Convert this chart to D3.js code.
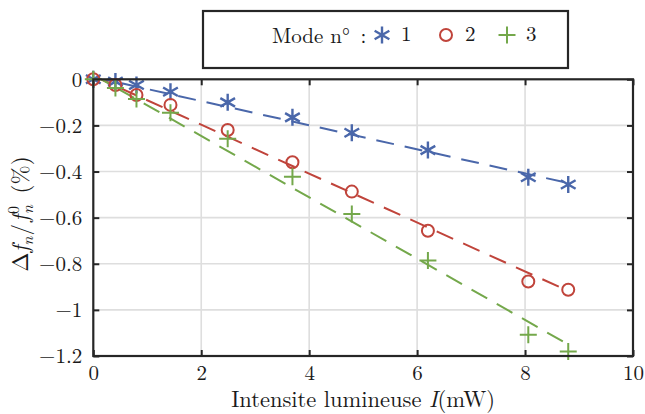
<!DOCTYPE html>
<html>
<head>
<meta charset="utf-8">
<script src="https://cdn.jsdelivr.net/npm/d3@7"></script>
<style>
  html, body { margin: 0; padding: 0; background: #fff; }
  svg { display: block; }
</style>
</head>
<body>
<svg id="chart" width="645" height="414"></svg>
<script>
// ---- data ----
const intensity = [0, 0.41, 0.8, 1.43, 2.49, 3.69, 4.79, 6.2, 8.06, 8.8];
const mode1 = [0, -0.01, -0.025, -0.054, -0.1, -0.165, -0.232, -0.307, -0.425, -0.456];
const mode2 = [0, -0.025, -0.068, -0.111, -0.22, -0.36, -0.487, -0.657, -0.877, -0.913];
const mode3 = [0, -0.038, -0.085, -0.145, -0.258, -0.423, -0.584, -0.786, -1.108, -1.18];
const fitX = [0, 8.8];
const fit1 = [0.01, -0.45];
const fit2 = [0.015, -0.918];
const fit3 = [0.02, -1.15];
const modeNames = ["1", "2", "3"];
const xTicks = [0, 2, 4, 6, 8, 10];
const xTickLabels = ["0", "2", "4", "6", "8", "10"];
const yTicks = [0, -0.2, -0.4, -0.6, -0.8, -1, -1.2];
const yTickLabels = ["0", "\u22120.2", "\u22120.4", "\u22120.6", "\u22120.8", "\u22121", "\u22121.2"];

// ---- layout ----
const FONT = '"Latin Modern Roman", "CMU Serif", "Liberation Serif", serif';
const L = 93.3, R = 633, T = 79.3, B = 356;
const svg = d3.select("#chart");
const x = d3.scaleLinear().domain([0, 10]).range([L, R]);
const y = d3.scaleLinear().domain([-1.2, 0]).range([B, T]);
const colors = ["#4a67aa", "#c0443b", "#74a84b"];
const frameColor = "#262626";
const textColor = "#1a1a1a";
const fs = 21;

// grid
const grid = svg.append("g");
grid.selectAll("line.gx").data(xTicks.slice(1, -1)).join("line")
  .attr("x1", d => x(d)).attr("x2", d => x(d)).attr("y1", T).attr("y2", B)
  .attr("stroke", "#dedede").attr("stroke-width", 1.6);
grid.selectAll("line.gy").data(yTicks.slice(1, -1)).join("line")
  .attr("y1", d => y(d)).attr("y2", d => y(d)).attr("x1", L).attr("x2", R)
  .attr("stroke", "#dedede").attr("stroke-width", 1.6);

// axes with inward ticks
const tl = 6;
const axB = svg.append("g").attr("transform", `translate(0,${B})`)
  .call(d3.axisBottom(x).tickValues(xTicks).tickSize(-tl).tickPadding(tl + 7).tickFormat((d, i) => xTickLabels[i]));
const axT = svg.append("g").attr("transform", `translate(0,${T})`)
  .call(d3.axisTop(x).tickValues(xTicks).tickSize(-tl).tickFormat(""));
const axL = svg.append("g").attr("transform", `translate(${L},0)`)
  .call(d3.axisLeft(y).tickValues(yTicks).tickSize(-tl).tickPadding(tl + 5).tickFormat((d, i) => yTickLabels[i]));
const axR = svg.append("g").attr("transform", `translate(${R},0)`)
  .call(d3.axisRight(y).tickValues(yTicks).tickSize(-tl).tickFormat(""));
[axB, axT, axL, axR].forEach(a => {
  a.select(".domain").remove();
  a.selectAll(".tick line").attr("stroke", frameColor).attr("stroke-width", 2);
  a.selectAll(".tick text").style("font-family", FONT).attr("font-size", fs).attr("fill", textColor);
});
axB.selectAll(".tick text").attr("dy", "0.5em");

// clip
svg.append("clipPath").attr("id", "clip").append("rect")
  .attr("x", L).attr("y", T).attr("width", R - L).attr("height", B - T);

// fit lines
const fits = [fit1, fit2, fit3];
const lineGen = d3.line().x(d => x(d[0])).y(d => y(d[1]));
const gLines = svg.append("g").attr("clip-path", "url(#clip)");
fits.forEach((f, i) => {
  gLines.append("path")
    .attr("d", lineGen(fitX.map((xv, j) => [xv, f[j]])))
    .attr("fill", "none").attr("stroke", colors[i]).attr("stroke-width", 2)
    .attr("stroke-dasharray", "18,11");
});

// markers
function marker(g, kind, cx, cy, color) {
  if (kind === 0) {
    const s = 8.5;
    let d = "";
    [90, 30, 150].forEach(a => {
      const r = a * Math.PI / 180;
      const dx = s * Math.cos(r), dy = s * Math.sin(r);
      d += `M${cx - dx},${cy - dy}L${cx + dx},${cy + dy}`;
    });
    g.append("path").attr("d", d).attr("stroke", color).attr("stroke-width", 2.4).attr("fill", "none");
  } else if (kind === 1) {
    g.append("circle").attr("cx", cx).attr("cy", cy).attr("r", 6)
      .attr("stroke", color).attr("stroke-width", 2).attr("fill", "none");
  } else {
    const s = 8.5;
    g.append("path").attr("d", `M${cx - s},${cy}L${cx + s},${cy}M${cx},${cy - s}L${cx},${cy + s}`)
      .attr("stroke", color).attr("stroke-width", 2).attr("fill", "none");
  }
}
const series = [mode1, mode2, mode3];
const gMarks = svg.append("g");
series.forEach((s, i) => {
  s.forEach((v, j) => marker(gMarks, i, x(intensity[j]), y(v), colors[i]));
});

// frame
svg.append("rect").attr("x", L).attr("y", T).attr("width", R - L).attr("height", B - T)
  .attr("fill", "none").attr("stroke", frameColor).attr("stroke-width", 2.2);

// x label
const xl = svg.append("text").attr("x", (L + R) / 2).attr("y", 407).attr("text-anchor", "middle")
  .style("font-family", FONT).attr("fill", textColor).attr("font-size", 22.5);
xl.append("tspan").text("Intensite lumineuse ");
xl.append("tspan").attr("font-style", "italic").text("I");
xl.append("tspan").text("(mW)");

// y label
const yl = svg.append("text").attr("transform", "translate(28,214) rotate(-90)")
  .attr("text-anchor", "middle").style("font-family", FONT).attr("fill", textColor).attr("font-size", 23);
yl.append("tspan").text("\u0394");
yl.append("tspan").attr("font-style", "italic").text("f");
yl.append("tspan").attr("font-style", "italic").attr("font-size", 16).attr("dy", 5).text("n");
yl.append("tspan").attr("dy", -5).attr("dx", 1).text("/");
yl.append("tspan").attr("font-style", "italic").attr("dx", 2).text("f");
yl.append("tspan").attr("font-size", 16).attr("dy", -9).attr("dx", 1).text("0");
yl.append("tspan").attr("font-style", "italic").attr("font-size", 16).attr("dy", 14).attr("dx", -8).text("n");
yl.append("tspan").attr("dy", -5).text("\u2002(%)");

// legend
const lg = svg.append("g");
lg.append("rect").attr("x", 203).attr("y", 11).attr("width", 365).attr("height", 57)
  .attr("fill", "#fff").attr("stroke", frameColor).attr("stroke-width", 2.2);
lg.append("text").attr("x", 272).attr("y", 43).style("font-family", FONT).attr("fill", textColor)
  .attr("font-size", 21).text("Mode n\u00b0\u2002:");
const legX = [382, 446, 507];
modeNames.forEach((n, i) => {
  marker(lg, i, legX[i], 35, colors[i]);
  lg.append("text").attr("x", legX[i] + 19).attr("y", 41).style("font-family", FONT).attr("fill", textColor)
    .attr("font-size", 21).text(n);
});
</script>
</body>
</html>
